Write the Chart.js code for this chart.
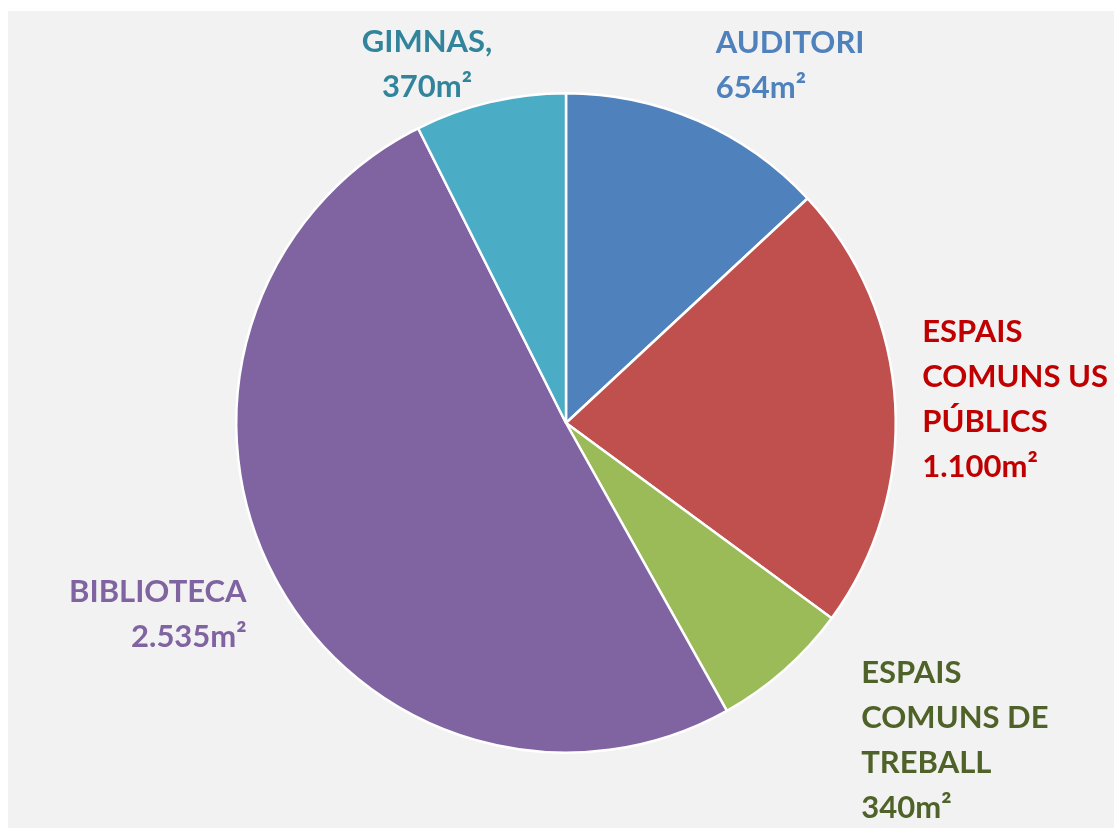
<!DOCTYPE html>
<html>
<head>
<meta charset="utf-8">
<script src="https://cdn.jsdelivr.net/npm/chart.js@4.4.0/dist/chart.umd.min.js"></script>
<style>
  html, body { margin: 0; padding: 0; background: #ffffff; }
  #wrap { position: relative; width: 1114px; height: 829px; overflow: hidden; }
  #fons { position: absolute; left: 8px; top: 11px; right: 0; bottom: 1px; background: #f2f2f2; }
  #grafic { position: absolute; left: 0; top: 0; }
</style>
</head>
<body>
<div id="wrap">
  <div id="fons"></div>
  <canvas id="grafic" width="1114" height="829"></canvas>
</div>
<script>
// Superfícies per espai (m²)
const espais = ['AUDITORI', 'ESPAIS COMUNS US PÚBLICS', 'ESPAIS COMUNS DE TREBALL', 'BIBLIOTECA', 'GIMNAS'];
const superficies = [654, 1100, 340, 2535, 370];
const etiquetes = [
  ['AUDITORI', '654m²'],
  ['ESPAIS', 'COMUNS US', 'PÚBLICS', '1.100m²'],
  ['ESPAIS', 'COMUNS DE', 'TREBALL', '340m²'],
  ['BIBLIOTECA', '2.535m²'],
  ['GIMNAS,', '370m²']
];

const colorsSector = ['#4f81bd', '#c0504d', '#9bbb59', '#8064a2', '#4bacc6'];
const colorsText = ['#4f81bd', '#c00000', '#4f6228', '#8064a2', '#31849b'];

// on va cada etiqueta respecte al punt de la vora del sector
const posEtiq = [
  { dx: 18,  dy: -78, align: 'left' },
  { dx: 27,  dy: -72, align: 'left' },
  { dx: 77,  dy: 3,   align: 'left' },
  { dx: -28, dy: 15,  align: 'right' },
  { dx: -63, dy: -60, align: 'center' }
];
const LINIA = 45;

const etiquetesPlugin = {
  id: 'etiquetes',
  afterDatasetsDraw(chart) {
    const ctx = chart.ctx;
    const meta = chart.getDatasetMeta(0);
    ctx.save();
    ctx.font = 'bold 31px Lato, "Open Sans", sans-serif';
    ctx.textBaseline = 'middle';
    meta.data.forEach((arc, i) => {
      const p = arc.getProps(['x', 'y', 'startAngle', 'endAngle', 'outerRadius'], true);
      const mig = (p.startAngle + p.endAngle) / 2;
      const ax = p.x + Math.cos(mig) * p.outerRadius;
      const ay = p.y + Math.sin(mig) * p.outerRadius;
      const pos = posEtiq[i];
      ctx.fillStyle = colorsText[i];
      ctx.textAlign = pos.align;
      etiquetes[i].forEach((t, k) => {
        ctx.fillText(t, ax + pos.dx, ay + pos.dy + k * LINIA);
      });
    });
    ctx.restore();
  }
};

new Chart(document.getElementById('grafic'), {
  type: 'pie',
  data: {
    labels: espais,
    datasets: [{
      data: superficies,
      backgroundColor: colorsSector,
      borderColor: '#ffffff',
      borderWidth: 2.5
    }]
  },
  options: {
    responsive: false,
    animation: false,
    layout: { padding: { left: 235, right: 217, top: 92, bottom: 75 } },
    plugins: { legend: { display: false }, tooltip: { enabled: false } }
  },
  plugins: [etiquetesPlugin]
});
</script>
</body>
</html>
